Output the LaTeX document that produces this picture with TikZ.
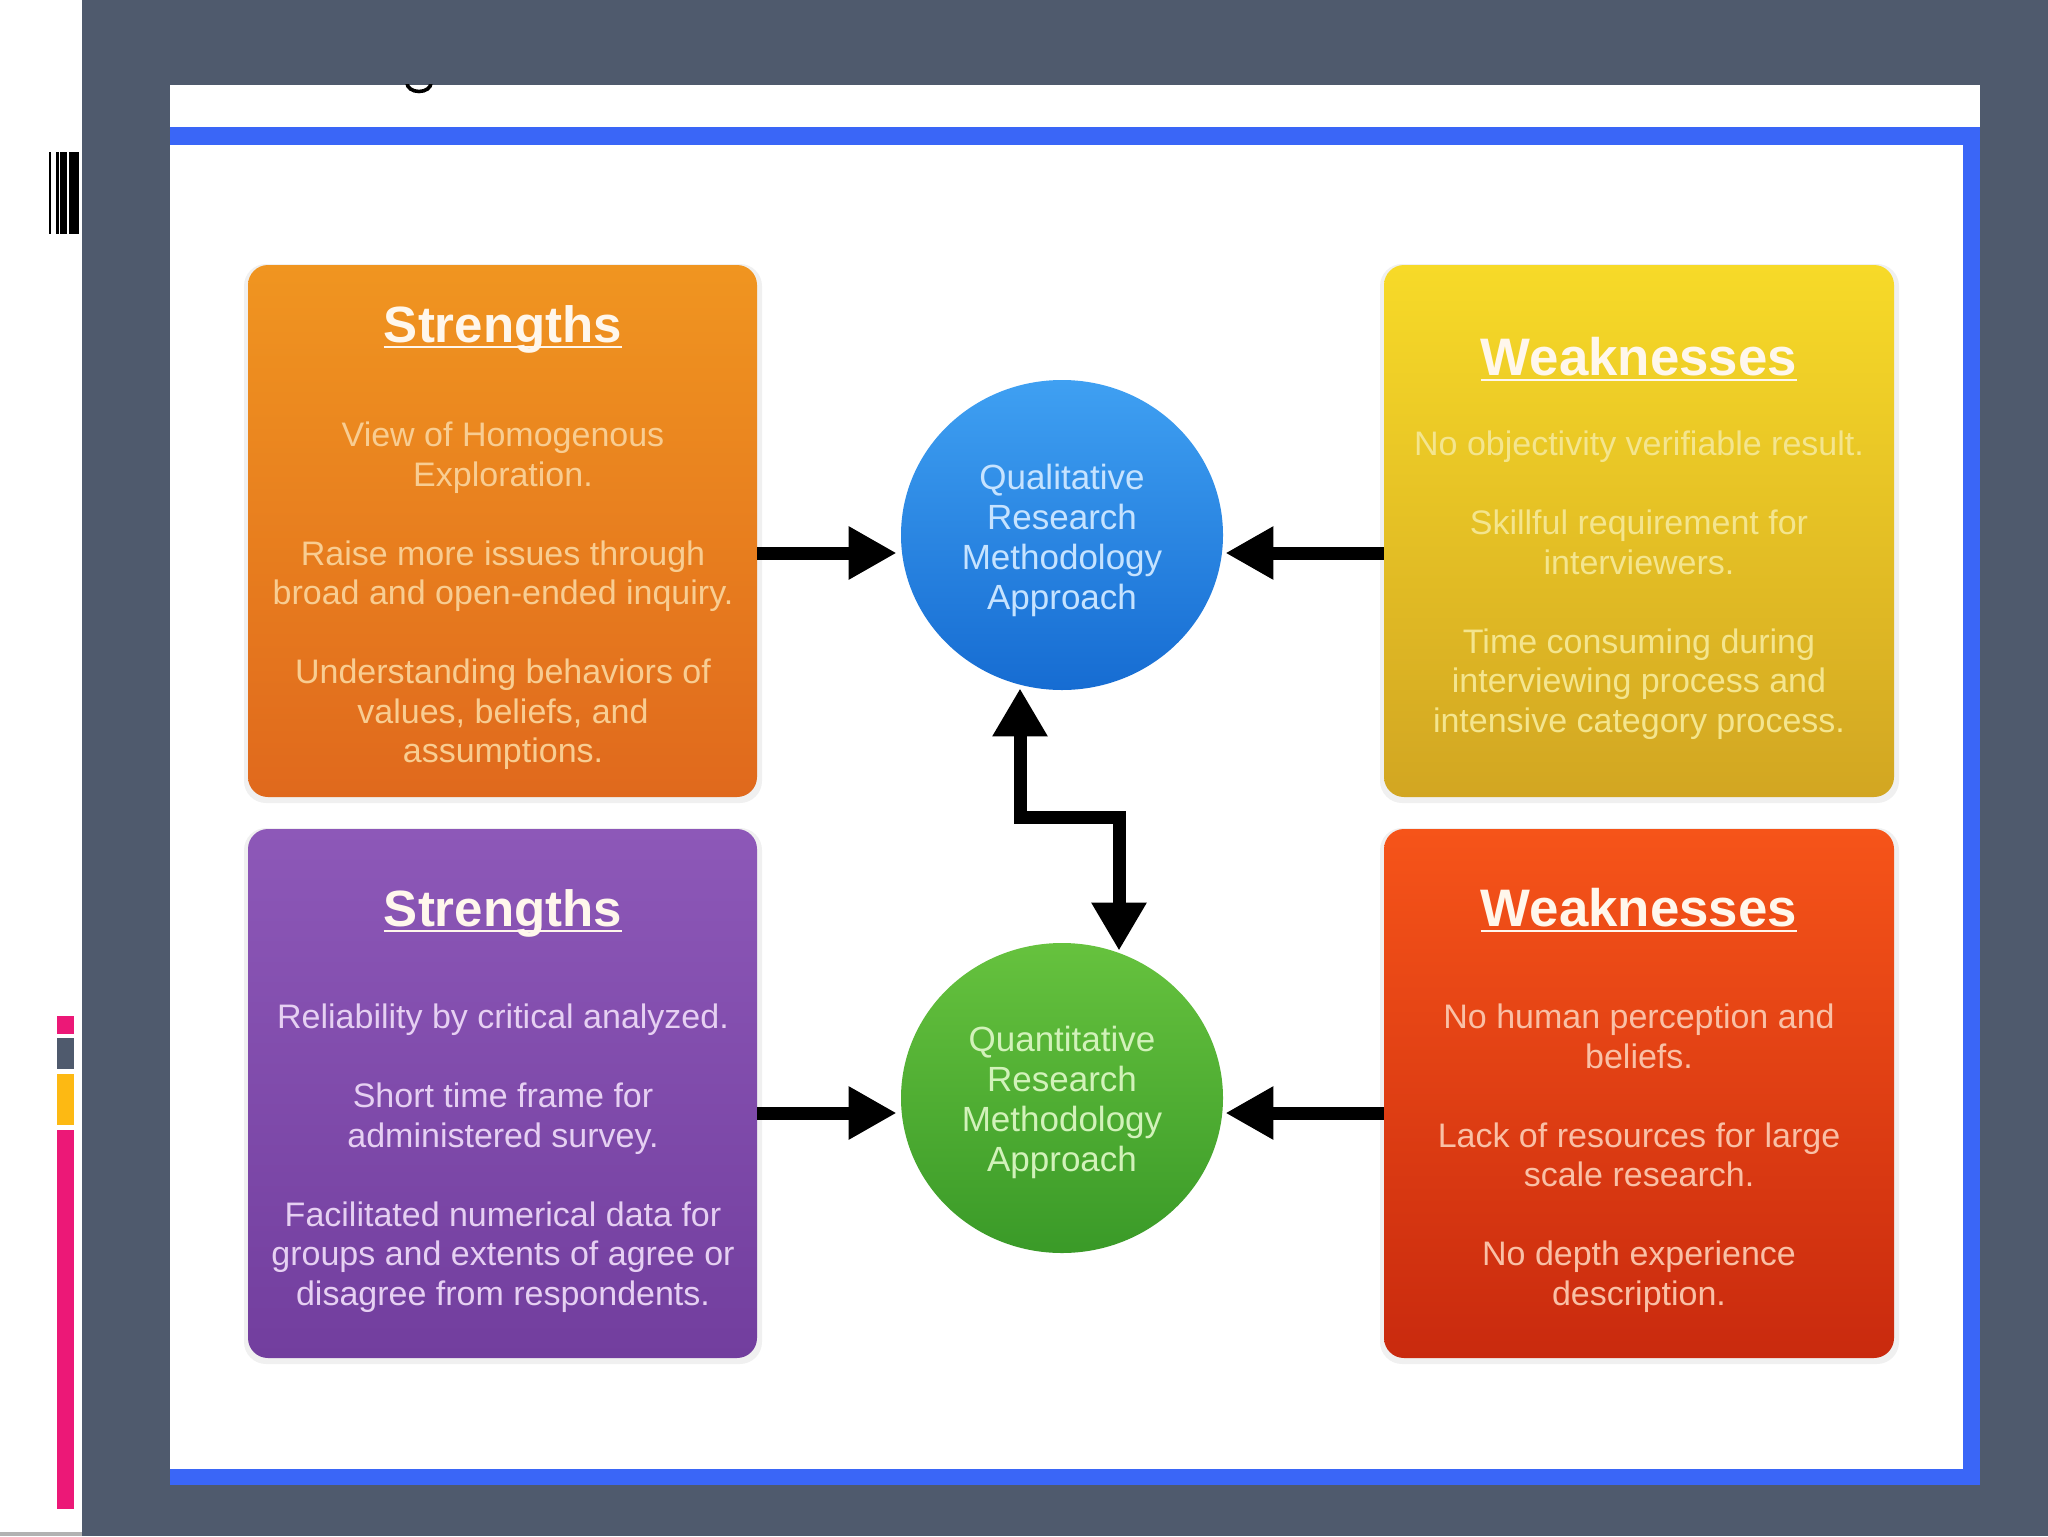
\documentclass[tikz,border=0pt]{standalone}
\usepackage{fontspec}
\setmainfont{Liberation Sans}
\usetikzlibrary{arrows.meta,shapes.geometric,calc}
\definecolor{slate}{HTML}{4F5A6D}
\definecolor{bluebar}{HTML}{3A66F7}
\definecolor{pinkbar}{HTML}{EC1877}
\definecolor{yellowbar}{HTML}{FDB913}
\definecolor{orangeT}{HTML}{F09520}
\definecolor{orangeB}{HTML}{E0691D}
\definecolor{yellowT}{HTML}{F7DA28}
\definecolor{yellowB}{HTML}{D2A622}
\definecolor{purpleT}{HTML}{8D58B8}
\definecolor{purpleB}{HTML}{723E9E}
\definecolor{redT}{HTML}{F65419}
\definecolor{redB}{HTML}{C92A0E}
\definecolor{blueT}{HTML}{3FA0F2}
\definecolor{blueB}{HTML}{166CD2}
\definecolor{greenT}{HTML}{66C23E}
\definecolor{greenB}{HTML}{3A9A28}
\definecolor{txtO}{HTML}{F8CD92}
\definecolor{txtY}{HTML}{F4E58E}
\definecolor{txtP}{HTML}{E6D0F2}
\definecolor{txtR}{HTML}{F9C0A6}
\definecolor{txtB}{HTML}{C6E3FF}
\definecolor{txtG}{HTML}{D2F2BA}
\definecolor{titleW}{HTML}{FFF7EC}
\begin{document}
\begin{tikzpicture}[x=0.5pt,y=-0.5pt,
  box/.style={rectangle, rounded corners=10pt, minimum width=254.5pt, minimum height=266pt, inner sep=0pt},
  disc/.style={ellipse, minimum width=161pt, minimum height=155pt, inner sep=0pt},
  ttl/.style={inner sep=0pt, anchor=base, text=titleW, font=\bfseries\fontsize{25.5pt}{30pt}\selectfont},
  ttlw/.style={ttl, font=\bfseries\fontsize{26.4pt}{32pt}\selectfont},
  body/.style={inner sep=0pt, align=center, font=\fontsize{17pt}{19.75pt}\selectfont},
  ctext/.style={inner sep=0pt, align=center, font=\fontsize{17.5pt}{20pt}\selectfont},
  uline/.style={line width=1.3pt, draw=titleW},
  arr/.style={line width=6.5pt, -{Triangle[length=24pt,width=25pt]}},
  zig/.style={line width=6.5pt, line join=miter, {Triangle[length=24pt,width=26pt]}-{Triangle[length=24pt,width=26pt]}},
  shad/.style={fill=black, opacity=0.06, rounded corners=11pt}
]
\useasboundingbox (0,0) rectangle (2048,1536);
% background
\fill[white] (0,0) rectangle (2048,1536);
\fill[slate] (82,0) rectangle (2048,1536);
\fill[black!30] (0,1532) rectangle (82,1536);
% barcode
\fill[black] (49.3,152) rectangle (51,234);
\fill[black] (55.7,152) rectangle (58.7,234);
\fill[black] (60,152) rectangle (66.7,234);
\fill[black] (69,152) rectangle (79.3,234);
% colour bars
\fill[pinkbar] (57,1016) rectangle (74,1034);
\fill[slate] (57,1038) rectangle (74,1069);
\fill[yellowbar] (57,1074) rectangle (74,1125);
\fill[pinkbar] (57,1130) rectangle (74,1509);
% panel
\fill[white] (170,85) rectangle (1980,1485);
\fill[bluebar] (170,127) rectangle (1980,145);
\fill[bluebar] (1963,127) rectangle (1980,1485);
\fill[bluebar] (170,1469) rectangle (1980,1485);
% title fragment
\begin{scope}
\clip (380,85) rectangle (460,110);
\draw[line width=1.8pt] (419,83) ellipse (12 and 8.5);
\end{scope}
% shadows
\fill[shad] (244,264) rectangle (762,803);
\fill[shad] (1380,264) rectangle (1899,803);
\fill[shad] (244,828) rectangle (762,1364);
\fill[shad] (1380,828) rectangle (1899,1364);
% boxes
\node[box, top color=orangeT, bottom color=orangeB] (qs) at (502.5,531) {};
\node[box, top color=yellowT, bottom color=yellowB, minimum width=255pt] (qw) at (1639,531) {};
\node[box, top color=purpleT, bottom color=purpleB, minimum height=264.5pt] (ns) at (502.5,1093.5) {};
\node[box, top color=redT, bottom color=redB, minimum width=255pt, minimum height=264.5pt] (nw) at (1639,1093.5) {};
% circles
\node[disc, top color=blueT, bottom color=blueB] (qual) at (1062,535) {};
\node[disc, top color=greenT, bottom color=greenB] (quan) at (1062,1098) {};
% titles
\node[ttl] (t1) at (503,342) {Strengths};
\draw[uline] ([yshift=-2.5pt]t1.base west) -- ([yshift=-2.5pt]t1.base east);
\node[ttlw] (t2) at (1639,375) {Weaknesses};
\draw[uline] ([yshift=-2.5pt]t2.base west) -- ([yshift=-2.5pt]t2.base east);
\node[ttl] (t3) at (503,926) {Strengths};
\draw[uline] ([yshift=-2.5pt]t3.base west) -- ([yshift=-2.5pt]t3.base east);
\node[ttlw] (t4) at (1639,926) {Weaknesses};
\draw[uline] ([yshift=-2.5pt]t4.base west) -- ([yshift=-2.5pt]t4.base east);
% body texts
\node[body, text=txtO] (b1) at (503,596) {View of Homogenous\\Exploration.\\[19.75pt]Raise more issues through\\broad and open-ended inquiry.\\[19.75pt]Understanding behaviors of\\values, beliefs, and\\assumptions.};
\node[body, text=txtY] (b2) at (1639,585) {No objectivity verifiable result.\\[19.75pt]Skillful requirement for\\interviewers.\\[19.75pt]Time consuming during\\interviewing process and\\intensive category process.};
\node[body, text=txtP] (b3) at (503,1158) {Reliability by critical analyzed.\\[19.75pt]Short time frame for\\administered survey.\\[19.75pt]Facilitated numerical data for\\groups and extents of agree or\\disagree from respondents.};
\node[body, text=txtR] (b4) at (1639,1158) {No human perception and\\beliefs.\\[19.75pt]Lack of resources for large\\scale research.\\[19.75pt]No depth experience\\description.};
% circle texts
\node[ctext, text=txtB] (c1) at (1062,540) {Qualitative\\Research\\Methodology\\Approach};
\node[ctext, text=txtG] (c2) at (1062,1102) {Quantitative\\Research\\Methodology\\Approach};
% arrows
\draw[arr] ([yshift=-11pt]qs.east) -- ([yshift=-9pt,xshift=-2pt]qual.west);
\draw[arr] ([yshift=-11pt]qw.west) -- ([yshift=-9pt,xshift=1pt]qual.east);
\draw[arr] ([yshift=-9.75pt]ns.east) -- ([yshift=-7.5pt,xshift=-2pt]quan.west);
\draw[arr] ([yshift=-9.75pt]nw.west) -- ([yshift=-7.5pt,xshift=1pt]quan.east);
\draw[zig] ([xshift=-21pt,yshift=1pt]qual.south) -- ++(0,129) -- ++(99,0) -- ([xshift=28.5pt,yshift=-4pt]quan.north);
\end{tikzpicture}
\end{document}
